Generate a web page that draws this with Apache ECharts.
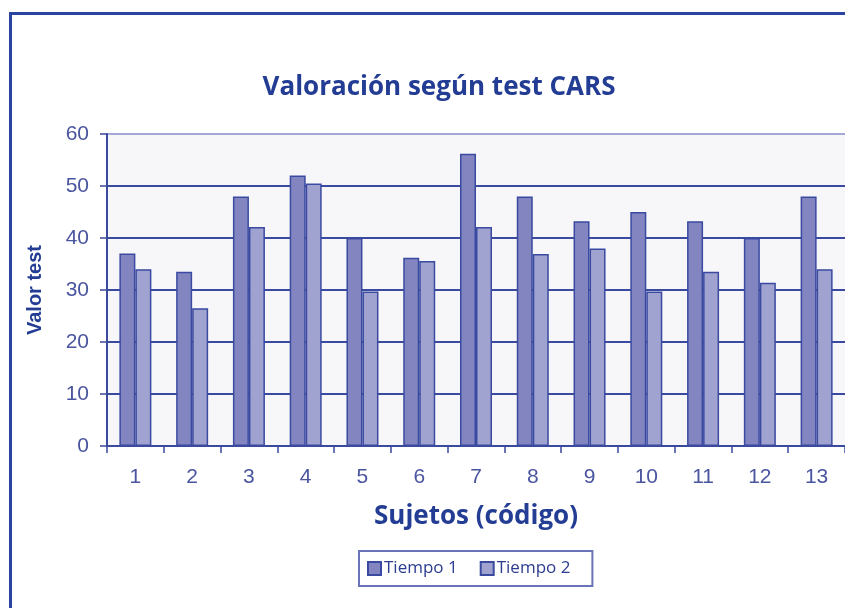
<!DOCTYPE html>
<html>
<head>
<meta charset="utf-8">
<script src="https://cdn.jsdelivr.net/npm/echarts@6/dist/echarts.min.js"></script>
<style>
  html, body { margin: 0; padding: 0; background: #fff; }
  #frame { position: absolute; left: 9px; top: 12px; width: 845px; height: 610px;
           border-left: 3px solid #2a44a0; border-top: 3px solid #2a44a0; }
  #chart { position: absolute; left: 0; top: 0; width: 845px; height: 608px; }
</style>
</head>
<body>
<div id="frame"></div>
<div id="chart"></div>
<script>
const sujetos = ['1', '2', '3', '4', '5', '6', '7', '8', '9', '10', '11', '12', '13'];
const tiempo1 = [37, 33.5, 48, 52, 40, 36.2, 56.2, 48, 43.2, 45, 43.2, 40, 48];
const tiempo2 = [34, 26.5, 42.1, 50.5, 29.7, 35.6, 42.1, 36.9, 38, 29.7, 33.5, 31.4, 34];
const yTicks = [0, 10, 20, 30, 40, 50, 60];

const azul = '#3a4a9e';
const texto = '#4a559f';

const chart = echarts.init(document.getElementById('chart'));

chart.setOption({
    backgroundColor: 'transparent',
    animation: false,
    title: {
        text: 'Valoración según test CARS',
        left: 434, top: 70, textAlign: 'center',
        textStyle: { fontFamily: 'Open Sans', fontWeight: 'bold', fontSize: 26, color: '#233d94' }
    },
    grid: {
        left: 107, right: 0, top: 134, bottom: 162,
        show: true, backgroundColor: '#f7f7fa', borderWidth: 0
    },
    legend: {
        data: ['Tiempo 1', 'Tiempo 2'],
        left: 359, top: 551,
        padding: [9, 22, 9, 8],
        itemWidth: 13, itemHeight: 13, itemGap: 22,
        borderColor: '#6a72b8', borderWidth: 2,
        icon: 'rect',
        textStyle: { fontFamily: 'Open Sans', fontSize: 17, color: '#2c3c90', padding: [0, 0, 0, -2] }
    },
    xAxis: {
        type: 'category',
        data: sujetos,
        name: 'Sujetos (código)',
        nameLocation: 'middle',
        nameGap: 58,
        nameTextStyle: { fontFamily: 'Open Sans', fontWeight: 'bold', fontSize: 26, color: '#233d94' },
        axisLine: { lineStyle: { color: azul, width: 2 } },
        axisTick: { show: true, length: 7, lineStyle: { color: azul, width: 1.5 } },
        axisLabel: { margin: 21, fontFamily: 'Liberation Sans', fontSize: 21, color: texto }
    },
    yAxis: {
        type: 'value',
        min: 0, max: 60, interval: 10,
        name: 'Valor test',
        nameLocation: 'middle',
        nameGap: 62,
        nameRotate: 90,
        nameTextStyle: { fontFamily: 'Liberation Sans', fontWeight: 'bold', fontSize: 20, color: '#233d94' },
        axisLine: { show: true, lineStyle: { color: azul, width: 2 } },
        axisTick: { show: true, length: 7, lineStyle: { color: azul, width: 1.5 } },
        axisLabel: {
            margin: 18, fontFamily: 'Liberation Sans', fontSize: 21, color: texto,
            formatter: (v) => yTicks.includes(v) ? String(v) : ''
        },
        splitLine: {
            show: true,
            lineStyle: { color: [azul, azul, azul, azul, azul, azul, '#a4a8d4'], width: 2 }
        }
    },
    series: [
        {
            name: 'Tiempo 1', type: 'bar', data: tiempo1,
            barWidth: 16, barGap: '0%',
            itemStyle: { color: '#8385c1', borderColor: '#3a4aa0', borderWidth: 1.5 }
        },
        {
            name: 'Tiempo 2', type: 'bar', data: tiempo2,
            barWidth: 16,
            itemStyle: { color: '#a0a2d0', borderColor: '#3a4aa0', borderWidth: 1.5 }
        }
    ]
});
</script>
</body>
</html>
